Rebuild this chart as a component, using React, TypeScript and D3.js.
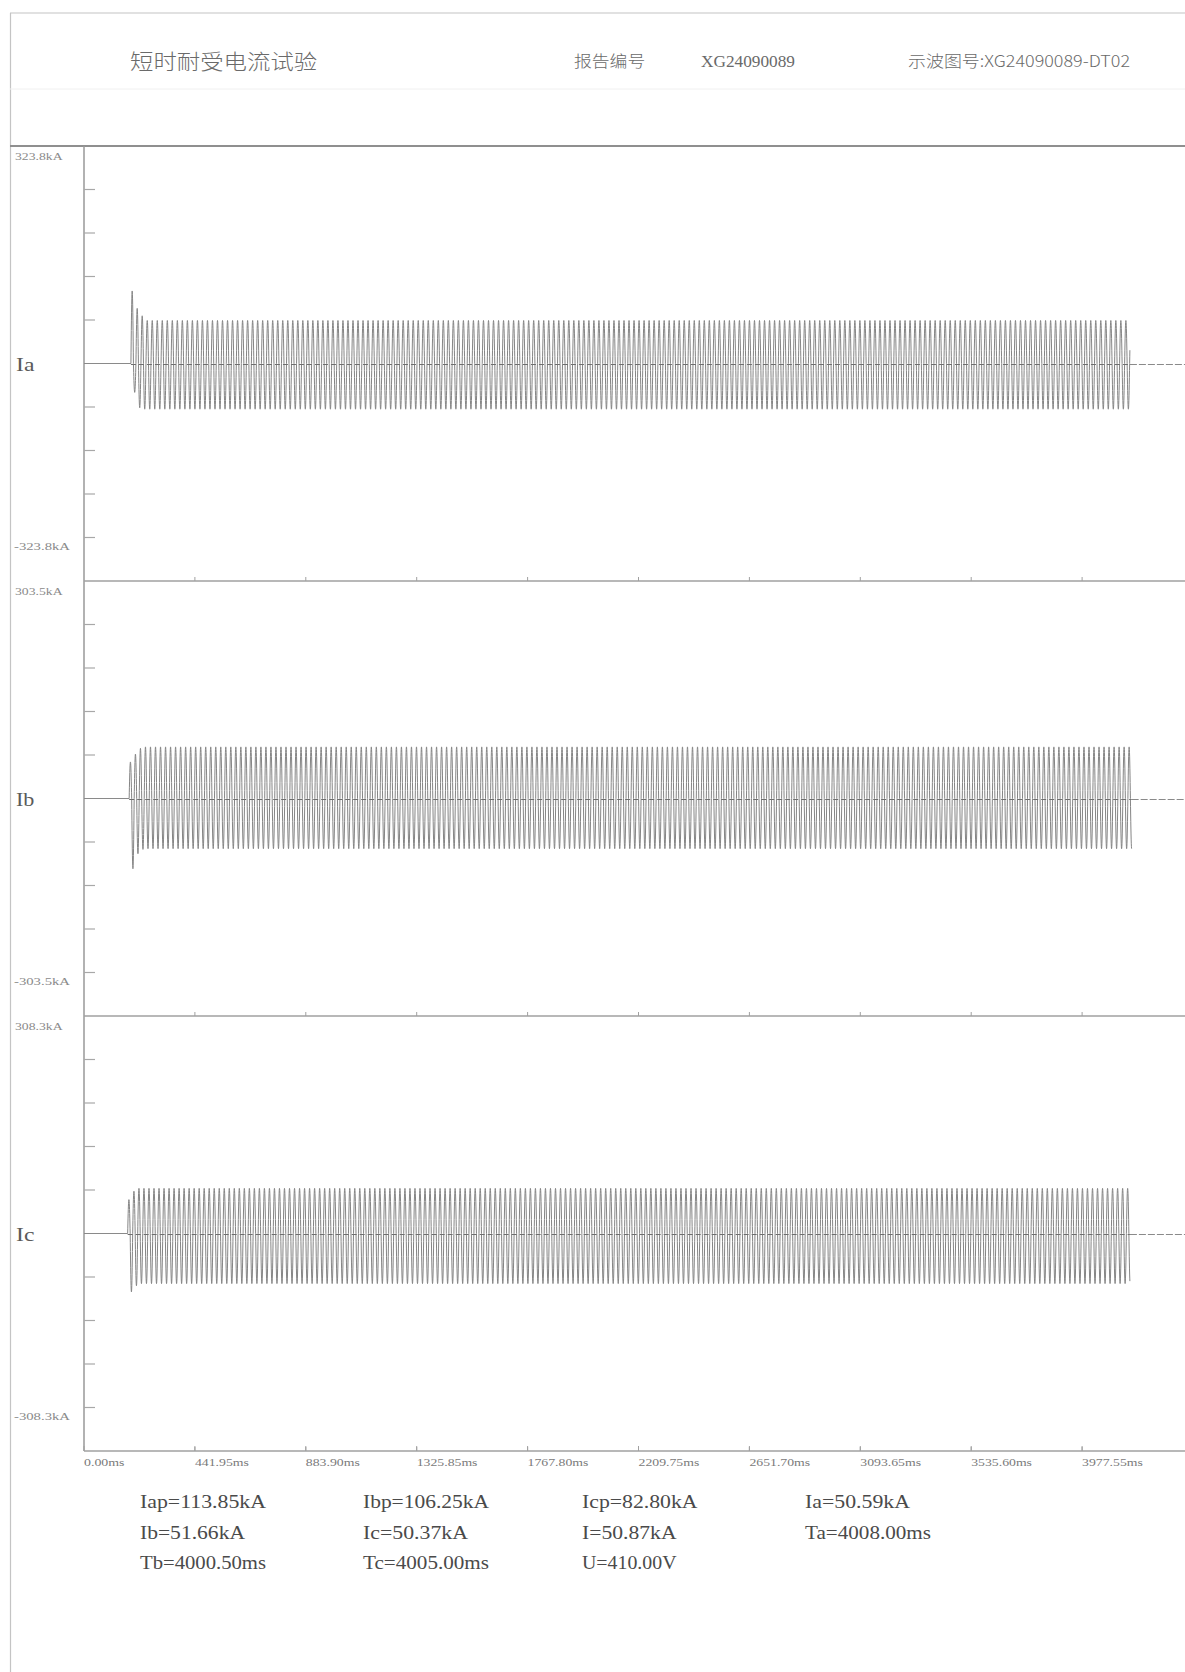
import * as d3 from "d3";
import { useEffect, useRef } from "react";

const width = 1185;
const height = 1672;

// header texts
const title = "短时耐受电流试验";
const reportLabel = "报告编号";
const reportNo = "XG24090089";
const scopeLabel = "示波图号:XG24090089-DT02";

// channels (kA)
const channels = ["Ia", "Ib", "Ic"];
const rangeMax = [323.8, 303.5, 308.3];
const rangeLabels = [
  ["323.8kA", "-323.8kA"],
  ["303.5kA", "-303.5kA"],
  ["308.3kA", "-308.3kA"],
];
const onsetMs = [187, 180, 174];
const endMs = [4168, 4175, 4168];
// first half-cycle peaks after closing
const firstPeaks = [
  [108, -43, 82, -66, 71, -68],
  [51, -98, 62, -77, 70, -71],
  [48, -82.8, 60, -74, 64, -71],
];
const steadyPos = [64, 72, 64];
const steadyNeg = [-68, -70, -71];
const halfPeriodMs = 10; // 50 Hz

// time axis
const timeTicks = [0, 441.95, 883.9, 1325.85, 1767.8, 2209.75, 2651.7, 3093.65, 3535.6, 3977.55];
const timeMax = 4419.5;

// readout block
const readoutRows = [
  ["Iap=113.85kA", "Ibp=106.25kA", "Icp=82.80kA", "Ia=50.59kA"],
  ["Ib=51.66kA", "Ic=50.37kA", "I=50.87kA", "Ta=4008.00ms"],
  ["Tb=4000.50ms", "Tc=4005.00ms", "U=410.00V"],
];

const isWide = (c: string) => /[\u3000-\u9fff\uff00-\uffef]/.test(c);
function textWidth(s: string, half: number) {
  let w = 0;
  for (const c of s) w += isWide(c) ? half * 2 : half;
  return w;
}

function App() {
  const ref = useRef<SVGSVGElement>(null);

  useEffect(() => {
    const svg = d3.select(ref.current);
    svg.selectAll("*").remove();

    const axisX = 84;
    const panelTop = 146;
    const panelH = 435;
    const plotBottom = panelTop + panelH * 3;
    const serif = "'Liberation Serif', 'DejaVu Serif', serif";
    const cjk = "'Noto Sans CJK SC', 'Liberation Serif', serif";

    const x = d3.scaleLinear().domain([0, timeMax]).range([axisX, axisX + 1109]);

    svg.append("rect").attr("width", width).attr("height", height).attr("fill", "#fff");

    // page frame
    svg.append("line").attr("x1", 10).attr("x2", width).attr("y1", 13).attr("y2", 13)
      .attr("stroke", "#c4c4c4").attr("stroke-width", 1.2);
    svg.append("line").attr("x1", 10.5).attr("x2", 10.5).attr("y1", 13).attr("y2", height)
      .attr("stroke", "#c4c4c4").attr("stroke-width", 1.2);
    svg.append("line").attr("x1", 10).attr("x2", width).attr("y1", 89).attr("y2", 89)
      .attr("stroke", "#f0f0f0");
    svg.append("line").attr("x1", 10).attr("x2", width).attr("y1", panelTop).attr("y2", panelTop)
      .attr("stroke", "#8f8f8f").attr("stroke-width", 2);

    // header
    const head = svg.append("g").attr("fill", "#6a6a6a");
    head.append("text").attr("x", 130).attr("y", 69).attr("font-family", cjk).attr("font-size", 21)
      .attr("font-weight", 300)
      .attr("textLength", textWidth(title, 11.7)).attr("lengthAdjust", "spacingAndGlyphs").text(title);
    head.append("text").attr("x", 574).attr("y", 67).attr("font-family", cjk).attr("font-size", 16)
      .attr("font-weight", 300)
      .attr("textLength", textWidth(reportLabel, 8.9)).attr("lengthAdjust", "spacingAndGlyphs").text(reportLabel);
    head.append("text").attr("x", 701).attr("y", 67).attr("font-family", serif).attr("font-size", 16)
      .attr("textLength", textWidth(reportNo, 9.4)).attr("lengthAdjust", "spacingAndGlyphs").text(reportNo);
    head.append("text").attr("x", 908).attr("y", 67).attr("font-family", cjk).attr("font-size", 16)
      .attr("font-weight", 300)
      .attr("textLength", textWidth(scopeLabel, 9.25)).attr("lengthAdjust", "spacingAndGlyphs").text(scopeLabel);

    // y axis
    svg.append("line").attr("x1", axisX).attr("x2", axisX).attr("y1", panelTop).attr("y2", plotBottom)
      .attr("stroke", "#999").attr("stroke-width", 1.5);

    channels.forEach((name, ci) => {
      const top = panelTop + ci * panelH;
      const bottom = top + panelH;
      const y = d3.scaleLinear().domain([-rangeMax[ci], rangeMax[ci]]).range([bottom, top]);
      const g = svg.append("g");

      // panel bottom line with small time ticks
      g.append("line").attr("x1", axisX).attr("x2", width).attr("y1", bottom).attr("y2", bottom)
        .attr("stroke", "#a0a0a0").attr("stroke-width", 1.3);
      g.selectAll(".tt").data(timeTicks.slice(1)).join("line")
        .attr("x1", (d) => x(d)).attr("x2", (d) => x(d))
        .attr("y1", bottom).attr("y2", bottom - 4)
        .attr("stroke", "#a0a0a0");

      // y ticks (10 divisions)
      const yTicks = d3.range(1, 10).filter((k) => k !== 5).map((k) => rangeMax[ci] - (k * rangeMax[ci]) / 5);
      g.selectAll(".yt").data(yTicks).join("line")
        .attr("x1", axisX).attr("x2", axisX + 11)
        .attr("y1", (d) => y(d)).attr("y2", (d) => y(d))
        .attr("stroke", "#a8a8a8").attr("stroke-width", 1.2);

      // range labels
      g.append("text").attr("x", 15).attr("y", top + 14).attr("font-family", serif).attr("font-size", 10)
        .attr("fill", "#8a8a8a").attr("textLength", rangeLabels[ci][0].length * 6.8)
        .attr("lengthAdjust", "spacingAndGlyphs").text(rangeLabels[ci][0]);
      g.append("text").attr("x", 14).attr("y", bottom - 31).attr("font-family", serif).attr("font-size", 10)
        .attr("fill", "#8a8a8a").attr("textLength", rangeLabels[ci][1].length * 7)
        .attr("lengthAdjust", "spacingAndGlyphs").text(rangeLabels[ci][1]);

      // channel name
      g.append("text").attr("x", 16).attr("y", y(0) + 7).attr("font-family", serif).attr("font-size", 19)
        .attr("fill", "#5a5a5a").attr("textLength", name.length * 9.2)
        .attr("lengthAdjust", "spacingAndGlyphs").text(name);

      // zero line before onset and after the end
      g.append("line").attr("x1", axisX).attr("x2", x(onsetMs[ci])).attr("y1", y(0)).attr("y2", y(0))
        .attr("stroke", "#8a8a8a").attr("stroke-width", 1.2);
      g.append("line").attr("x1", x(endMs[ci])).attr("x2", width).attr("y1", y(0) + 1).attr("y2", y(0) + 1)
        .attr("stroke", "#8a8a8a").attr("stroke-width", 1.2).attr("stroke-dasharray", "7,2");

      // current trace
      const pts: [number, number][] = [];
      const sign0 = Math.sign(firstPeaks[ci][0]);
      for (let t = onsetMs[ci]; t <= endMs[ci]; t += 0.5) {
        const k = Math.floor((t - onsetMs[ci]) / halfPeriodMs);
        const amp = k < firstPeaks[ci].length
          ? Math.abs(firstPeaks[ci][k])
          : (sign0 * (k % 2 === 0 ? 1 : -1) > 0 ? steadyPos[ci] : -steadyNeg[ci]);
        pts.push([t, amp * sign0 * Math.sin((Math.PI * (t - onsetMs[ci])) / halfPeriodMs)]);
      }
      const line = d3.line<[number, number]>().x((d) => x(d[0])).y((d) => y(d[1]));
      g.append("path").attr("d", line(pts)).attr("fill", "none")
        .attr("stroke", "#858585").attr("stroke-width", 1);

      // dashed centre line over the trace
      g.append("line").attr("x1", x(onsetMs[ci])).attr("x2", x(endMs[ci]))
        .attr("y1", y(0) + 1).attr("y2", y(0) + 1)
        .attr("stroke", "#6e6e6e").attr("stroke-width", 1.2).attr("stroke-dasharray", "5,3");
    });

    // time axis labels and ticks
    svg.selectAll(".xt").data(timeTicks).join("line")
      .attr("x1", (d) => x(d)).attr("x2", (d) => x(d))
      .attr("y1", plotBottom).attr("y2", plotBottom - 5)
      .attr("stroke", "#a0a0a0");
    svg.selectAll(".xl").data(timeTicks).join("text")
      .attr("x", (d) => x(d)).attr("y", plotBottom + 15)
      .attr("font-family", serif).attr("font-size", 10).attr("fill", "#7a7a7a")
      .attr("textLength", (d) => (d.toFixed(2) + "ms").length * 6.75)
      .attr("lengthAdjust", "spacingAndGlyphs")
      .text((d) => d.toFixed(2) + "ms");

    // readouts
    const colX = [140, 363, 582, 805];
    const rowY = [1508, 1539, 1569];
    readoutRows.forEach((row, ri) => {
      row.forEach((s, ci) => {
        svg.append("text").attr("x", colX[ci]).attr("y", rowY[ri])
          .attr("font-family", serif).attr("font-size", 19).attr("fill", "#4a4a4a")
          .attr("textLength", s.length * 10.5).attr("lengthAdjust", "spacingAndGlyphs")
          .text(s);
      });
    });
  }, []);

  return (
    <div style={{ position: "absolute", left: 0, top: 0 }}>
      <svg ref={ref} width={width} height={height} style={{ display: "block" }} />
    </div>
  );
}

export default App;
